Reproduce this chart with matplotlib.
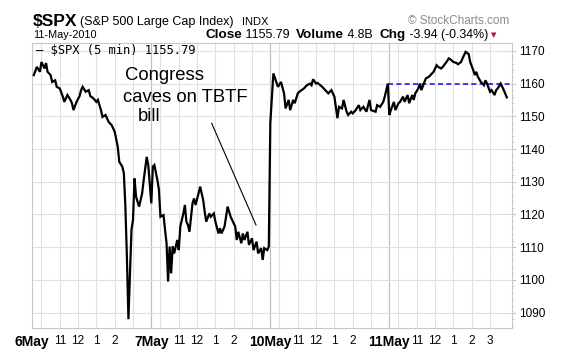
import numpy as np
import matplotlib
matplotlib.use('Agg')
import matplotlib.pyplot as plt

plt.rcParams['font.family'] = ['Liberation Sans', 'DejaVu Sans']

# 5-min bars, minutes since 9:30 open, per trading day
days = ['6May', '7May', '10May', '11May']

t_6may = [5, 15, 25, 30, 40, 45, 50, 60, 65, 75, 80, 90, 100, 105, 115, 125, 130, 135,
          145, 155, 160, 165, 175, 185, 190, 200, 210, 215, 225, 230, 240, 250, 260,
          270, 280, 285, 295, 300, 305, 310, 315, 320, 325, 330, 335, 340, 350, 355,
          360, 365, 375, 380]
p_6may = [1162.6, 1165.1, 1163.6, 1166.6, 1164.6, 1166.3, 1163.6, 1162.6, 1160.5, 1161.0,
          1159.0, 1158.5, 1156.0, 1154.4, 1156.5, 1155.0, 1154.0, 1151.9, 1154.4, 1156.2,
          1158.0, 1159.0, 1157.5, 1158.0, 1156.2, 1155.5, 1154.4, 1155.0, 1151.9, 1149.8,
          1150.4, 1148.3, 1147.3, 1145.3, 1140.7, 1136.1, 1134.6, 1132.6, 1122.4, 1107.1,
          1088.0, 1102.1, 1115.3, 1118.3, 1131.0, 1125.4, 1122.4, 1124.4, 1126.5, 1130.5,
          1137.6, 1135.1]

t_7may = [0, 5, 10, 20, 25, 30, 40, 45, 50, 55, 60, 65, 70, 75, 85, 90, 95, 105, 110,
          115, 120, 125, 135, 140, 145, 155, 160, 170, 175, 180, 190, 195, 205, 210, 220,
          225, 230, 240, 245, 250, 260, 265, 275, 280, 285, 295, 300, 305, 315, 320, 330,
          335, 345, 350, 360, 365, 370, 380, 385]
p_7may = [1123.4, 1134.6, 1135.1, 1130.5, 1127.5, 1119.3, 1119.8, 1115.3, 1111.2, 1099.5,
          1110.2, 1102.0, 1110.2, 1108.1, 1112.2, 1109.1, 1116.3, 1120.3, 1122.9, 1117.8,
          1116.8, 1114.7, 1123.4, 1124.9, 1122.9, 1126.5, 1128.5, 1124.4, 1120.8, 1117.8,
          1120.3, 1119.3, 1120.3, 1117.8, 1114.2, 1115.8, 1114.2, 1116.3, 1119.3, 1122.4,
          1119.3, 1118.3, 1116.3, 1112.2, 1114.7, 1111.2, 1114.2, 1112.2, 1114.7, 1110.7,
          1112.7, 1109.1, 1111.7, 1108.1, 1109.7, 1106.1, 1109.7, 1109.1, 1110.2]

t_10may = [0, 10, 25, 35, 45, 50, 60, 65, 75, 80, 90, 95, 110, 120, 130, 135, 140, 150,
           155, 170, 180, 190, 200, 210, 220, 225, 235, 240, 250, 255, 265, 270, 280, 290,
           295, 305, 315, 325, 330, 345, 350, 360, 370, 375, 385]
p_10may = [1148.0, 1163.1, 1159.0, 1160.5, 1157.0, 1152.4, 1155.0, 1151.9, 1155.0, 1154.0,
           1157.0, 1157.5, 1158.5, 1159.5, 1160.0, 1159.5, 1161.3, 1160.0, 1160.2, 1159.0,
           1158.0, 1157.0, 1158.0, 1156.0, 1149.4, 1152.9, 1152.4, 1155.0, 1151.4, 1150.4,
           1151.4, 1150.9, 1151.9, 1153.4, 1151.9, 1152.9, 1151.4, 1155.0, 1151.9, 1151.4,
           1153.4, 1152.9, 1154.4, 1156.0, 1160.0]

t_11may = [0, 5, 15, 20, 30, 35, 45, 50, 60, 65, 75, 80, 85, 95, 100, 105, 115, 120, 130,
           140, 145, 155, 160, 170, 175, 185, 195, 200, 210, 220, 225, 235, 240, 250, 260,
           265, 275, 280, 285, 290, 300, 310, 315, 320, 330, 335, 345, 350, 355, 365, 370,
           375, 385]
p_11may = [1150.4, 1151.9, 1154.4, 1151.9, 1154.0, 1154.4, 1156.0, 1154.4, 1156.5, 1154.0,
           1156.5, 1155.0, 1157.0, 1158.5, 1160.0, 1158.0, 1160.5, 1161.6, 1162.1, 1163.1,
           1163.6, 1165.6, 1165.1, 1164.6, 1165.1, 1166.3, 1167.7, 1167.4, 1166.6, 1166.3,
           1165.9, 1166.6, 1167.7, 1169.7, 1169.0, 1166.6, 1164.1, 1162.6, 1163.6, 1162.1,
           1160.5, 1159.5, 1161.0, 1160.0, 1157.5, 1158.0, 1156.5, 1158.0, 1158.5, 1160.0,
           1159.0, 1158.0, 1155.79]

close = 1155.79
chg = -3.94
prev_close = close - chg

y_ticks = [1090, 1100, 1110, 1120, 1130, 1140, 1150, 1160, 1170]
hour_labels = ['11', '12', '1', '2', '3']
hour_minutes = [90, 150, 210, 270, 330]

DAY = 390
times = [t_6may, t_7may, t_10may, t_11may]
prices = [p_6may, p_7may, p_10may, p_11may]
x = np.concatenate([np.array(t) + i * DAY for i, t in enumerate(times)])
y = np.concatenate([np.array(p) for p in prices])

W, H = 577, 357
fig = plt.figure(figsize=(W / 100, H / 100), dpi=100)
ax = fig.add_axes([32.3 / W, 1 - 328 / H, (511.7 - 32.3) / W, (328 - 43) / H])

ax.set_xlim(0, 1571)
ax.set_ylim(1085.3, 1172.4)

# grid
for i in range(len(days)):
    if i > 0:
        ax.axvline(i * DAY, color='#c0c0c0', lw=0.9, zorder=0)
    for m in [30, 90, 150, 210, 270, 330]:
        ax.axvline(i * DAY + m, color='#e0e0e0', lw=0.8, zorder=0)
for v in y_ticks:
    ax.axhline(v, color='#e0e0e0', lw=0.8, zorder=0)

ax.plot(x, y, color='black', lw=1.6, solid_joinstyle='miter', zorder=3)

# previous close
ax.plot([3 * DAY - 5, 1571], [prev_close, prev_close], color='#1a1aff',
        lw=1.2, ls=(0, (3, 2)), zorder=2)

for s in ax.spines.values():
    s.set_color('#c8c8c8')
    s.set_linewidth(0.8)

ax.yaxis.tick_right()
ax.set_yticks(y_ticks)
ax.set_yticklabels([str(v) for v in y_ticks], fontsize=8.5)
ax.set_yticks(np.arange(1086, 1172, 2), minor=True)
ax.tick_params(axis='y', which='major', length=3, color='#c8c8c8', pad=2)
ax.tick_params(axis='y', which='minor', length=1.5, color='#c8c8c8')

xt, xl = [], []
for i, d in enumerate(days):
    xt.append(i * DAY)
    xl.append(d)
    n = 5 if i == len(days) - 1 else 4
    for m, lab in zip(hour_minutes[:n], hour_labels[:n]):
        xt.append(i * DAY + m)
        xl.append(lab)
ax.set_xticks(xt)
ax.set_xticklabels(xl, fontsize=8.5)
for lab in ax.get_xticklabels():
    if 'May' in lab.get_text():
        lab.set_fontweight('bold')
        lab.set_fontsize(10)
ax.tick_params(axis='x', length=0, pad=5)

# legend text
fig.text(36 / W, 1 - 50 / H, '\u2014 $SPX (5 min) 1155.79', family='DejaVu Sans Mono',
         fontsize=8.7, va='center', ha='left')

# annotation
fig.text(125 / W, 1 - 76 / H, 'Congress', fontsize=13.3, va='center')
fig.text(123 / W, 1 - 97 / H, 'caves on TBTF', fontsize=13.3, va='center')
fig.text(138 / W, 1 - 117 / H, 'bill', fontsize=13.3, va='center')
fig.add_artist(plt.Line2D([211.7 / W, 256 / W], [1 - 123.3 / H, 1 - 225 / H],
                          color='black', lw=0.8))

# header
fig.text(33 / W, 1 - 22 / H, '$SPX', fontsize=12.5, fontweight='bold', va='center')
fig.text(80 / W, 1 - 22 / H, '(S&P 500 Large Cap Index)', fontsize=9, va='center')
fig.text(242 / W, 1 - 22 / H, 'INDX', fontsize=8, va='center')
fig.text(509 / W, 1 - 21 / H, '\u00a9 StockCharts.com', fontsize=8.5, color='#8a8a8a',
         va='center', ha='right')
fig.text(33 / W, 1 - 35 / H, '11-May-2010', fontsize=7.8, va='center')

parts = [('Close', 'bold'), (' 1155.79  ', 'normal'), ('Volume', 'bold'), (' 4.8B  ', 'normal'),
         ('Chg', 'bold'), (' -3.94 (-0.34%)', 'normal')]
fig.canvas.draw()
renderer = fig.canvas.get_renderer()
xpos = 205
for txt, w in parts:
    t = fig.text(xpos / W, 1 - 35 / H, txt, fontsize=9.7 if w == 'bold' else 8.9,
                 fontweight=w, va='center')
    bb = t.get_window_extent(renderer)
    xpos += bb.width
fig.text((xpos + 3) / W, 1 - 35 / H, '\u25bc', fontsize=5, color='#b0103a', va='center',
         family='DejaVu Sans')

fig.savefig('out.png', dpi=100)
